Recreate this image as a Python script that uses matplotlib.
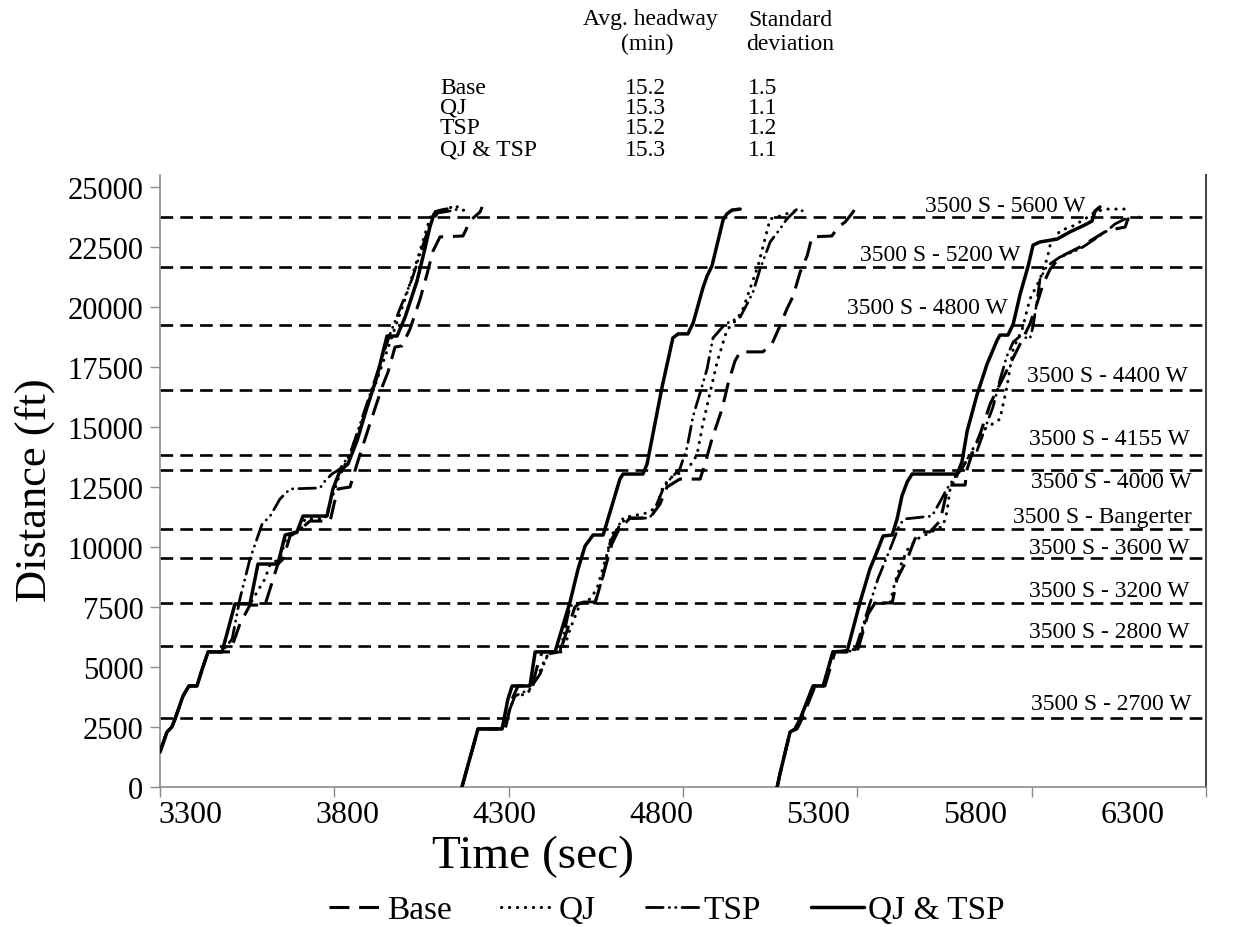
import matplotlib
matplotlib.use("Agg")
import matplotlib.pyplot as plt
from matplotlib.lines import Line2D

plt.rcParams['font.family'] = ['Liberation Serif', 'DejaVu Serif']

# ---------------- data ----------------
# Base (3 buses)
BASE_T1 = [3300,3320,3334,3343,3366,3383,3406,3423,3438,3501,3529,3558,3601,3638,3653,3673,3693,3730,3788,3799,3811,3845,3865,3902,3937,3954,3974,3994,4017,4046,4066,4083,4103,4169,4181,4195,4218,4224]
BASE_D1 = [1460,2290,2500,2830,3790,4210,4210,5000,5630,5630,6790,7580,7580,9290,9500,10460,10630,11080,11080,11790,12420,12500,13460,15130,16670,17290,18330,18380,19080,20330,21380,22330,22920,22960,23330,23670,23960,24170]
BASE_T2 = [4166,4212,4290,4310,4327,4367,4384,4396,4447,4490,4505,4548,4576,4596,4614,4648,4705,4734,4754,4791,4849,4863,4883,4912,4929,4949,4964,5029,5055,5078,5098,5116,5136,5156,5170,5227,5245,5265,5288,5296]
BASE_D2 = [0,2420,2420,3670,4210,4210,5130,5630,5630,7500,7670,7670,9080,10130,10670,11210,11210,11790,12500,12830,12830,13460,14500,15750,16790,17750,18130,18130,18460,19210,19920,20460,21460,22130,22920,22960,23330,23540,23960,24170]
BASE_T3 = [5070,5078,5107,5127,5141,5179,5207,5236,5302,5331,5351,5400,5414,5443,5465,5480,5508,5537,5546,5557,5566,5609,5615,5629,5652,5681,5709,5738,5767,5795,5815,5833,5853,5881,5910,5939,5967,6010,6039,6068,6076,6111]
BASE_D3 = [0,540,2290,2420,2830,4210,4210,5630,5750,7210,7670,7670,8670,9500,10330,10630,10630,11080,11620,12330,12580,12580,13250,13880,14710,15960,16790,17620,18460,19290,20130,20960,21580,22080,22290,22500,22750,23130,23250,23330,23670,23750]

# QJ
QJ_T1 = [3300,3320,3334,3343,3366,3383,3406,3423,3438,3478,3515,3558,3601,3616,3644,3664,3702,3716,3773,3811,3845,3882,3931,3968,4003,4040,4069,4083,4126,4146,4166,4189]
QJ_D1 = [1460,2290,2500,2830,3790,4210,4210,5000,5630,5630,7630,7630,8670,9290,9500,10500,10630,11170,11170,12830,13880,15330,17330,18880,20330,22080,23460,23960,24080,24250,24000,24170]
QJ_T2 = [4166,4212,4281,4298,4318,4353,4381,4404,4419,4456,4476,4505,4533,4553,4582,4596,4611,4639,4697,4725,4743,4771,4812,4840,4857,4898,4926,4955,4972,4992,5015,5035,5050,5078,5136]
QJ_D2 = [0,2420,2420,3040,3790,3880,4500,5330,5630,5630,6580,7630,7830,8250,9710,10540,10750,11250,11420,11670,12540,12960,13210,13830,15130,17710,19040,19500,19920,20750,21710,22830,23670,23790,24080]
QJ_T3 = [5070,5078,5107,5121,5136,5173,5202,5230,5302,5316,5336,5351,5394,5408,5428,5445,5471,5529,5546,5557,5566,5580,5600,5623,5666,5709,5729,5747,5773,5795,5824,5844,5853,5881,5919,5953,5982,6010,6082]
QJ_D3 = [0,540,2290,2420,2830,4210,4210,5630,5750,6580,7540,7670,7670,8540,9380,9920,10330,10750,10880,11460,12420,12830,13250,13880,14920,15330,16670,18250,19080,20330,21170,22000,22580,23170,23380,23670,23960,24080,24080]

# TSP
TSP_T1 = [3300,3320,3334,3343,3366,3383,3406,3423,3438,3478,3507,3529,3558,3593,3616,3644,3673,3759,3773,3793,3816,3845,3874,3917,3960,3988,4023,4046,4074,4097,4132,4155]
TSP_D1 = [1460,2290,2500,2830,3790,4210,4210,5000,5630,5630,6170,7830,9500,10960,11290,12000,12420,12460,12750,13040,13250,13880,15130,17000,18880,19920,21170,22210,23460,23920,24000,24080]
TSP_T2 = [4166,4212,4281,4298,4318,4361,4390,4413,4447,4476,4505,4548,4571,4591,4611,4625,4705,4725,4743,4763,4791,4812,4829,4849,4869,4886,4921,4964,4984,5001,5021,5050,5078,5098,5127,5144]
TSP_D2 = [0,2420,2420,3040,3790,4080,4710,5540,5630,7540,7710,7710,8790,10210,10750,11170,11210,11790,12420,12830,13250,14170,15460,16420,17420,18710,19290,19580,20130,20630,21580,22710,23250,23670,24080,24000]
TSP_T3 = [5070,5078,5107,5121,5136,5173,5202,5230,5293,5313,5331,5359,5394,5422,5437,5514,5537,5557,5580,5600,5623,5643,5672,5689,5709,5729,5747,5767,5795,5804,5815,5824,5844,5881,5924,5947,5973,6016,6039,6068]
TSP_D3 = [0,540,2290,2420,2830,4210,4210,5630,5670,6580,7420,8670,9920,10960,11170,11290,11880,12420,12920,13250,13880,14000,15170,15830,16960,17960,18540,18790,18670,19210,20210,21170,21710,22080,22330,22500,22750,23170,23460,23670]

# QJ & TSP
QT_T1 = [3300,3320,3334,3343,3366,3383,3406,3423,3438,3478,3515,3558,3581,3638,3659,3693,3710,3779,3796,3816,3839,3865,3894,3922,3951,3980,4003,4037,4054,4074,4086,4097,4123]
QT_D1 = [1460,2290,2500,2830,3790,4210,4210,5000,5630,5630,7630,7630,9290,9290,10500,10630,11290,11290,12420,13170,13460,14420,15830,17080,18790,18790,19580,21080,22080,23330,23880,24000,24080]
QT_T2 = [4166,4212,4281,4298,4310,4361,4376,4433,4476,4499,4519,4542,4571,4596,4619,4628,4685,4697,4740,4771,4786,4814,4829,4857,4869,4883,4915,4926,4941,4964]
QT_D2 = [0,2420,2420,3670,4210,4210,5630,5630,7710,9080,10040,10500,10500,11710,12830,13040,13040,13460,16670,18710,18880,18880,19330,20790,21290,21710,23630,23880,24040,24080]
QT_T3 = [5070,5078,5107,5121,5136,5173,5202,5230,5270,5308,5336,5356,5374,5400,5414,5428,5443,5457,5586,5600,5615,5643,5672,5701,5709,5732,5747,5767,5790,5804,5824,5873,5910,5947,5973,5982,5996]
QT_D3 = [0,540,2290,2420,2830,4210,4210,5630,5630,7710,9080,9790,10460,10500,11170,12130,12710,13040,13040,13540,14830,16330,17620,18620,18830,18830,19290,20540,21710,22580,22710,22830,23130,23380,23580,24000,24170]

STATION_NAMES = ['3500 S - 5600 W', '3500 S - 5200 W', '3500 S - 4800 W', '3500 S - 4400 W',
                 '3500 S - 4155 W', '3500 S - 4000 W', '3500 S - Bangerter', '3500 S - 3600 W',
                 '3500 S - 3200 W', '3500 S - 2800 W', '3500 S - 2700 W']
STATION_DIST = [23750, 21670, 19250, 16540, 13830, 13210, 10750, 9540, 7670, 5875, 2875]

X_TICKS = [3300, 3800, 4300, 4800, 5300, 5800, 6300]
X_TICK_LABELS = ['3300', '3800', '4300', '4800', '5300', '5800', '6300']
Y_TICKS = [0, 2500, 5000, 7500, 10000, 12500, 15000, 17500, 20000, 22500, 25000]

TABLE_ROWS = ['Base', 'QJ', 'TSP', 'QJ & TSP']
AVG_HEADWAY = ['15.2', '15.3', '15.2', '15.3']
STD_DEV = ['1.5', '1.1', '1.2', '1.1']

# ---------------- layout ----------------
LABEL_POS = [(5953, 24210), (5767, 22170), (5732, 19960), (6248, 17125), (6254, 14540),
             (6260, 12710), (6260, 11290), (6254, 10000), (6254, 8170), (6254, 6460), (6257, 3460)]
# the reference prints its x tick labels on a slightly compressed spacing
XLABEL_AXFRAC = [0.029 + 0.1501 * i for i in range(7)]

W, H = 1244, 928
fig = plt.figure(figsize=(W / 100, H / 100), dpi=100)
ax = fig.add_axes([160 / W, 1 - 788 / H, (1206 - 160) / W, (788 - 176) / H])

for d in STATION_DIST:
    ax.axhline(d, color='black', lw=1.9, dashes=(4.8, 2.7), zorder=1)

styles = {
    'Base': dict(color='black', lw=2.2, dashes=(6.5, 3.2), dash_capstyle='butt'),
    'QJ': dict(color='black', lw=2.2, dashes=(0.1, 2.5), dash_capstyle='round'),
    'TSP': dict(color='black', lw=2.0, dashes=(6, 2.2, 0.1, 2.2, 0.1, 2.2), dash_capstyle='round'),
    'QJ & TSP': dict(color='black', lw=2.5, linestyle='-', solid_capstyle='round'),
}
series = {
    'Base': [(BASE_T1, BASE_D1), (BASE_T2, BASE_D2), (BASE_T3, BASE_D3)],
    'QJ': [(QJ_T1, QJ_D1), (QJ_T2, QJ_D2), (QJ_T3, QJ_D3)],
    'TSP': [(TSP_T1, TSP_D1), (TSP_T2, TSP_D2), (TSP_T3, TSP_D3)],
    'QJ & TSP': [(QT_T1, QT_D1), (QT_T2, QT_D2), (QT_T3, QT_D3)],
}
handles = []
for name in ['Base', 'QJ', 'TSP', 'QJ & TSP']:
    for t, d in series[name]:
        ax.plot(t, d, zorder=3, **styles[name])
    handles.append(Line2D([], [], **styles[name], label=name))

for name, (tx, ty) in zip(STATION_NAMES, LABEL_POS):
    ax.text(tx, ty, name, ha='right', va='center', fontsize=17, zorder=4)

ax.set_xlim(3300, 6300)
ax.set_ylim(0, 25500)
ax.set_xticks(X_TICKS)
ax.set_xticklabels([])
ax.set_yticks(Y_TICKS)
ax.tick_params(axis='both', direction='out', length=7, width=1, color='#8c8c8c', labelsize=22, pad=5)
for lab, fx in zip(X_TICK_LABELS, XLABEL_AXFRAC):
    ax.text(fx, -0.045, lab, transform=ax.transAxes, ha='center', va='center', fontsize=23)

for s in ['left', 'bottom']:
    ax.spines[s].set_color('#8c8c8c')
    ax.spines[s].set_linewidth(1.2)
ax.spines['right'].set_color('#404040')
ax.spines['right'].set_linewidth(1.4)
ax.spines['top'].set_visible(False)

fig.text(35 / W, 1 - 490 / H, 'Distance (ft)', rotation=90, ha='center', va='center', fontsize=32)
fig.text(533 / W, 1 - 857 / H, 'Time (sec)', ha='center', va='center', fontsize=34)

fig.legend(handles=handles, loc='center', bbox_to_anchor=(667 / W, 1 - 911 / H), ncol=4,
           frameon=False, fontsize=24, handlelength=1.6, handletextpad=0.12, columnspacing=1.5)

# headway table
fs = 17
fig.text(650 / W, 1 - 20 / H, 'Avg. headway', ha='center', va='center', fontsize=fs)
fig.text(647 / W, 1 - 44 / H, '(min)', ha='center', va='center', fontsize=fs)
fig.text(790 / W, 1 - 20 / H, 'Standard', ha='center', va='center', fontsize=fs)
fig.text(790 / W, 1 - 44 / H, 'deviation', ha='center', va='center', fontsize=fs)
row_y = [88, 108, 129, 150]
for name, hw, sd, y in zip(TABLE_ROWS, AVG_HEADWAY, STD_DEV, row_y):
    fig.text(440 / W, 1 - y / H, name, ha='left', va='center', fontsize=fs)
    fig.text(645 / W, 1 - y / H, hw, ha='center', va='center', fontsize=fs)
    fig.text(763 / W, 1 - y / H, sd, ha='center', va='center', fontsize=fs)

fig.savefig('out.png', dpi=100)
